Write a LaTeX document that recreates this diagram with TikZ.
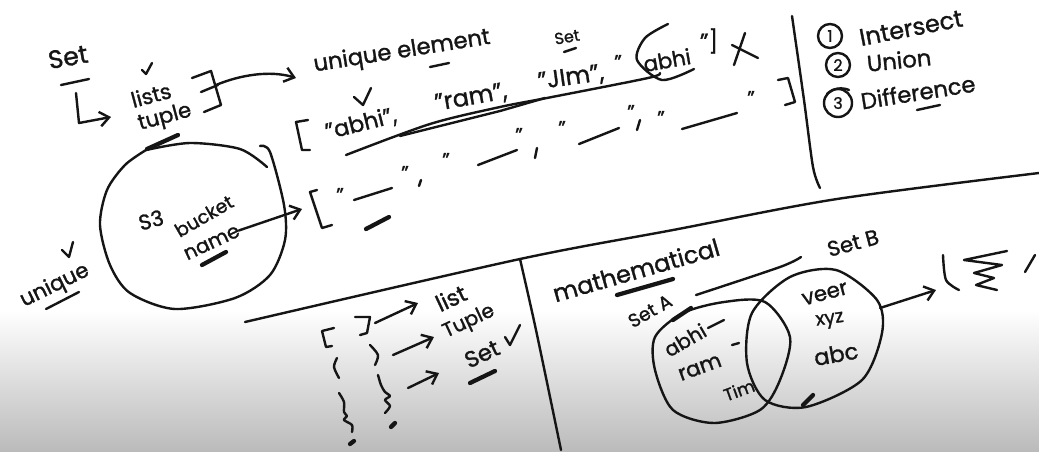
\documentclass[tikz,border=0pt]{standalone}
\usepackage{fontspec}
\setmainfont{Poppins}[RawFeature={embolden=1.2}]
\usetikzlibrary{arrows.meta}
\definecolor{inkc}{HTML}{151515}
\definecolor{shadec}{HTML}{BBBBBB}
\tikzset{
  ink/.style={draw=inkc,line width=1.8pt,line cap=round,line join=round},
  heavy/.style={draw=inkc,line width=3.2pt,line cap=round},
  barb/.style={ink,-{Straight Barb[length=7pt,width=11pt]}},
  hand/.style={font=\fontsize{#1}{#1}\selectfont,text=inkc,inner sep=0pt,outer sep=0pt},
}
\begin{document}
\begin{tikzpicture}[x=0.75pt,y=-0.75pt]
  \useasboundingbox (0,0) rectangle (1039,451);
  % paper
  \fill[white] (0,0) rectangle (1039,451);
  \shade[top color=white,bottom color=shadec] (0,310) rectangle (1039,451);

  % set, top left
  \node[hand=19,rotate=10] (settitle) at (68,57) {Set};
  \draw[ink] (61,85) -- (89,79);
  \node[hand=16,rotate=15] (lists) at (151,95) {lists};
  \node[hand=16,rotate=15] (tuple) at (165,118) {tuple};
  \draw[ink] (142,70) -- (146,74) -- (152,63);
  \draw[heavy] (147,149) -- (178,135);
  \coordinate (elbow) at (79,123);
  \draw[barb] (76,93) -- (elbow) -- (111,117);
  \draw[ink] (192,78) -- (211,71) -- (221,105) -- (204,112);
  \draw[ink] (201,92) -- (218,85);
  \node[hand=17,rotate=9] (element) at (402,52) {unique element};
  \coordinate (bracefrom) at (216,85);
  \draw[barb] (bracefrom) .. controls (240,75) and (270,70) .. (296,78);
  \draw[ink] (430,67) -- (449,63);

  % first list
  \draw[ink] (308,120) -- (296,122) -- (302,150) -- (310,150);
  \draw[ink] (354,97) -- (363,105) -- (371,88);
  \node[hand=17,rotate=14] (abhione) at (361,124) {"abhi",};
  \node[hand=18,rotate=10] (ram) at (471,98) {"ram",};
  \node[hand=18,rotate=8] (jim) at (571,78) {"JIm",};
  \node[hand=16,rotate=10] (abhitwo) at (667,60) {abhi};
  \node[hand=17] (closeone) at (709,41) {"]};
  \node[hand=12,rotate=10] (setsmall) at (567,37) {Set};
  \draw[ink] (564,52) -- (576,48);
  \draw[ink] plot[smooth] coordinates {(346,155) (430,124) (500,107) (552,97) (648,78) (660,73)};
  \draw[ink] (400,136) -- (500,111) -- (545,98);
  \draw[ink] plot[smooth] coordinates {(668,24) (645,38) (637,60) (662,80) (694,69)};
  \draw[ink] (734,65) -- (745,33);
  \draw[ink] (732,45) -- (758,58);

  % second list
  \draw[ink] (317,190) -- (310,192) -- (322,228) -- (332,225);
  \foreach \qx/\qy [count=\qi] in {340/190,405/168,446/155,519/130,562/123,631/107,661/113,751/93,618/57}
    \node[hand=15] (q\qi) at (\qx,\qy+5) {"};
  \draw[ink] (354,200) -- (392,188);
  \draw[ink] (478,165) -- (517,150);
  \draw[ink] (579,144) -- (619,128);
  \draw[ink] (682,129) -- (737,113);
  \draw[ink] (421,180) -- (419,186);
  \draw[ink] (537,148) -- (535,158);
  \draw[ink] (640,120) -- (637,130);
  \draw[ink] (778,80) -- (788,78) -- (795,102) -- (785,105);
  \draw[heavy] (366,229) -- (389,217);

  % right column
  \draw[ink] plot[smooth] coordinates {(792,16) (804,100) (813,167) (820,188)};
  \node[ink,hand=12,circle,minimum size=18pt,inner sep=0pt] (numone) at (830,36) {1};
  \node[ink,hand=12,circle,minimum size=18pt,inner sep=0pt] (numtwo) at (838,65) {2};
  \node[ink,hand=12,circle,minimum size=21pt,inner sep=0pt] (numthree) at (838,103) {3};
  \draw[ink] (827,94) .. controls (833,88) and (842,87) .. (849,90);
  \node[hand=18,rotate=11] (intersect) at (911,28) {Intersect};
  \node[hand=17,rotate=6] (union) at (899,60) {Union};
  \node[hand=17,rotate=9] (difference) at (918,92) {Difference};
  \draw[ink] (917,110) -- (940,105);

  % bucket
  \draw[ink] plot[smooth] coordinates {(146,150) (190,143) (240,149) (267,167)};
  \draw[ink] plot[smooth] coordinates {(260,146) (270,152) (284,205) (285,240) (270,275) (235,298) (175,309) (130,293) (110,265) (100,225) (107,190) (125,165) (146,150)};
  \node[hand=16,rotate=15] (sthree) at (151,220) {S3};
  \node[hand=14,rotate=30] (bucket) at (204,216) {bucket};
  \node[hand=15,rotate=25] (bname) at (212,243) {name};
  \draw[heavy] (202,265) -- (226,252);
  \coordinate (bracketmid) at (302,209);
  \draw[barb] (bname.east) -- (bracketmid);
  \node[hand=16,rotate=26] (unique) at (55,286) {unique};
  \draw[ink] (62,250) -- (69,257) -- (73,242);
  \draw[ink] (46,309) -- (79,292);

  % long dividers
  \draw[ink] plot[smooth] coordinates {(245,322) (520,259) (673,230) (837,199) (1039,173)};
  \draw[ink] plot[smooth] coordinates {(520,259) (536,330) (561,450)};

  % brackets
  \draw[ink] (334,328) -- (322,331) -- (326,347) -- (332,346);
  \draw[ink] (355,317) -- (370,317) -- (367,333) -- (360,335);
  \draw[ink] plot[smooth] coordinates {(337,358) (334,367) (339,378)};
  \draw[ink] plot[smooth] coordinates {(370,345) (378,355) (375,365)};
  \draw[ink] plot[smooth] coordinates {(378,375) (381,385) (385,392) (390,396) (385,400) (390,406) (385,413)};
  \draw[ink] plot[smooth] coordinates {(339,393) (344,402) (344,412) (347,416) (344,420) (352,425) (352,432)};
  \draw[heavy] (391,427) -- (395,423);
  \draw[heavy] (350,444) -- (354,441);
  \node[hand=17,rotate=25] (list) at (451,298) {list};
  \node[hand=15,rotate=25] (tupleb) at (469,322) {Tuple};
  \node[hand=17,rotate=25] (setb) at (482,354) {Set};
  \coordinate (brone) at (375,323);
  \coordinate (brtwo) at (393,355);
  \coordinate (brthree) at (408,388);
  \draw[barb] (brone) -- (418,303);
  \draw[barb] (brtwo) -- (434,337);
  \draw[barb] (brthree) -- (439,373);
  \draw[ink] (505,337) -- (510,345) -- (520,325);
  \draw[heavy] (470,383) -- (495,371);

  % venn
  \node[hand=18,rotate=16] (math) at (636,270) {mathematical};
  \draw[heavy] (617,295) -- (673,279);
  \node[hand=14,rotate=30] (seta) at (650,311) {Set A};
  \node[hand=16,rotate=15] (setbb) at (853,243) {Set B};
  \draw[ink] plot[smooth] coordinates {(696,295) (780,267) (801,257)};
  \draw[ink] plot[smooth cycle] coordinates {(765,302) (790,337) (780,380) (760,410) (714,423) (673,410) (655,370) (655,337) (683,313) (724,302)};
  \draw[ink] plot[smooth cycle] coordinates {(836,270) (877,300) (882,333) (862,380) (806,407) (765,400) (747,363) (752,313) (790,277)};
  \draw[heavy] (673,320) -- (691,308);
  \draw[heavy] (803,405) -- (813,395);
  \node[hand=15,rotate=30] (abhiv) at (685,340) {abhi};
  \draw[ink] (708,328) -- (724,320);
  \node[hand=16,rotate=20] (ramv) at (700,368) {ram};
  \draw[ink] (732,345) -- (739,343);
  \node[hand=13,rotate=20] (timv) at (739,390) {Tim};
  \node[hand=16,rotate=15] (veer) at (825,294) {veer};
  \node[hand=14,rotate=8] (xyz) at (830,321) {xyz};
  \node[hand=17,rotate=10] (abc) at (836,354) {abc};
  \coordinate (vennout) at (880,308);
  \draw[barb] (vennout) -- (936,290);
  \draw[ink] plot[smooth] coordinates {(943,255) (946,280) (959,290)};
  \draw[ink] (1007,251) -- (964,260) -- (1002,265) -- (974,273) -- (994,278) -- (976,285) -- (997,290);
  \draw[ink] (1035,255) -- (1025,272);
\end{tikzpicture}
\end{document}
